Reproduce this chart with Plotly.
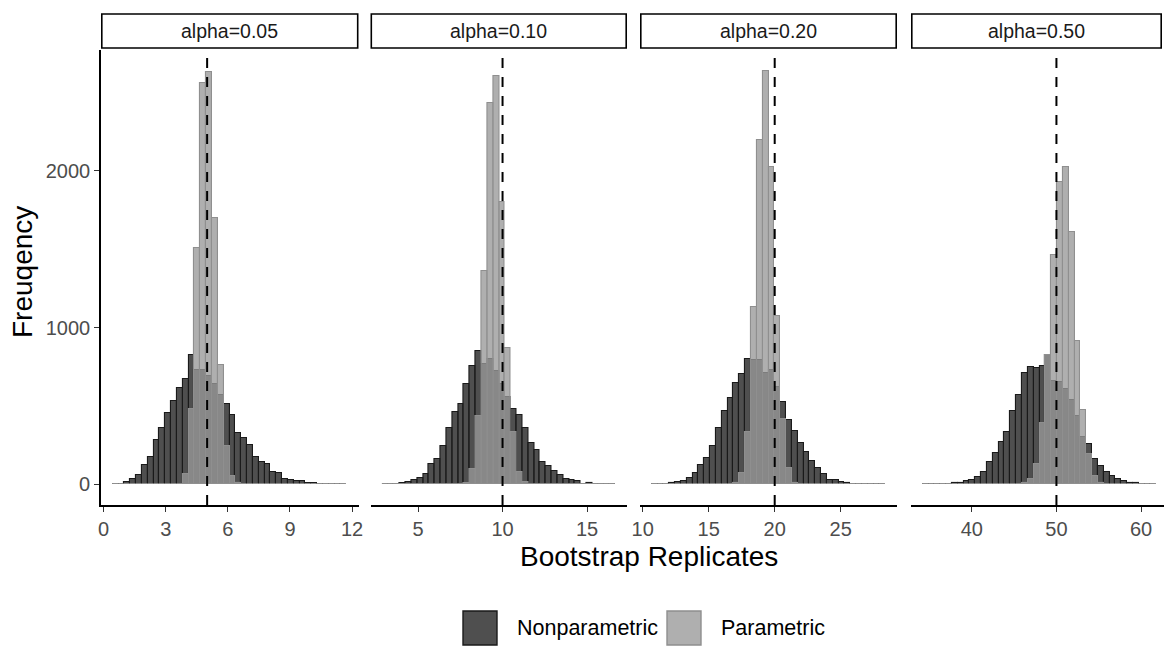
import plotly.graph_objects as go

W, H = 1164, 646

# ---------------- data ----------------
panel_labels = ["alpha=0.05", "alpha=0.10", "alpha=0.20", "alpha=0.50"]
true_values = [5, 10, 20, 50]
bin_start = [0.44, 2.88, 10.68, 34.2]
bin_width = [0.282, 0.3455, 0.4425, 0.69]

nonpar_005 = [5, 4, 15, 32, 57, 121, 174, 282, 358, 456, 533, 614, 672, 826, 728, 728, 690, 637, 573, 512,
              442, 327, 297, 250, 174, 144, 129, 78, 70, 36, 28, 24, 19, 10, 8, 4, 3, 2, 1, 1]
par_005 = [0, 0, 0, 0, 0, 0, 0, 0, 0, 0, 0, 5, 64, 478, 1510, 2562, 2632, 1700, 760, 244,
           53, 10, 2, 0, 0, 0, 0, 0, 0, 0, 0, 0, 0, 0, 0, 0, 0, 0, 0, 0]

nonpar_010 = [1, 2, 3, 6, 14, 28, 40, 66, 132, 163, 244, 359, 461, 512, 637, 754, 850, 770, 800, 722,
              640, 560, 478, 442, 357, 261, 221, 142, 117, 85, 57, 36, 28, 19, 3, 6, 2, 1, 2, 1]
par_010 = [0, 0, 0, 0, 0, 0, 0, 0, 0, 0, 0, 0, 0, 2, 10, 96, 435, 1361, 2431, 2605,
           1800, 870, 337, 81, 12, 0, 0, 0, 0, 0, 0, 0, 0, 0, 0, 0, 0, 0, 0, 0]

nonpar_020 = [1, 2, 4, 8, 14, 24, 38, 70, 125, 168, 242, 359, 469, 548, 648, 705, 800, 791, 791, 711,
              732, 620, 527, 410, 338, 265, 208, 146, 104, 68, 30, 25, 13, 9, 5, 3, 2, 1, 1, 1]
par_020 = [0, 0, 0, 0, 0, 0, 0, 0, 0, 0, 0, 0, 0, 2, 10, 70, 335, 1129, 2197, 2639,
           2024, 1073, 414, 102, 10, 0, 0, 0, 0, 0, 0, 0, 0, 0, 0, 0, 0, 0, 0, 0]

nonpar_050 = [1, 1, 2, 3, 4, 6, 10, 19, 28, 44, 80, 142, 197, 267, 335, 469, 567, 709, 748, 743,
              758, 822, 658, 650, 605, 541, 435, 300, 255, 159, 117, 81, 53, 32, 19, 10, 6, 4, 2, 1]
par_050 = [0, 0, 0, 0, 0, 0, 0, 0, 0, 0, 0, 0, 0, 0, 0, 0, 4, 10, 32, 127,
           393, 828, 1465, 1932, 2024, 1610, 913, 473, 191, 53, 10, 2, 0, 0, 0, 0, 0, 0, 0, 0]

nonpar_counts = [nonpar_005, nonpar_010, nonpar_020, nonpar_050]
par_counts = [par_005, par_010, par_020, par_050]

x_tickvals = [[0, 3, 6, 9, 12], [5, 10, 15], [10, 15, 20, 25], [40, 50, 60]]
y_tickvals = [0, 1000, 2000]

series_names = ["Nonparametric", "Parametric"]

# ---------------- style ----------------
FONT = "Liberation Sans, Arial, Helvetica, sans-serif"
NONPAR_FILL = "rgba(40,40,40,0.82)"
NONPAR_LINE = "#1a1a1a"
PAR_FILL = "rgba(153,153,153,0.78)"
PAR_LINE = "#8f8f8f"
TICK_SIZE = 20
STRIP_SIZE = 19.5
LEGEND_SIZE = 21.5
TITLE_SIZE = 28

def fx(px):
    return px / W

def fy(py):
    return 1 - py / H

x_domains_px = [(101, 358.5), (370.5, 627), (640, 897), (911, 1164)]
full_width_px = 257.0
y_domain_px = (50, 505)

fig = go.Figure()

ymax = max(max(max(c) for c in nonpar_counts), max(max(c) for c in par_counts))
y_range = [-0.05 * ymax, 1.05 * ymax]

shapes = []
annotations = []

for i in range(4):
    xa = "x" if i == 0 else f"x{i+1}"
    n = len(nonpar_counts[i])
    centers = [bin_start[i] + (k + 0.5) * bin_width[i] for k in range(n)]
    fig.add_trace(go.Bar(
        x=centers, y=nonpar_counts[i], width=[bin_width[i]] * n,
        xaxis=xa, yaxis="y", name=series_names[0], showlegend=False,
        marker=dict(color=NONPAR_FILL, line=dict(color=NONPAR_LINE, width=1.1)),
    ))
    fig.add_trace(go.Bar(
        x=centers, y=par_counts[i], width=[bin_width[i]] * n,
        xaxis=xa, yaxis="y", name=series_names[1], showlegend=False,
        marker=dict(color=PAR_FILL, line=dict(color=PAR_LINE, width=1.1)),
    ))

    lo = bin_start[i]
    hi = bin_start[i] + n * bin_width[i]
    pad = 0.05 * (hi - lo)
    r0 = lo - pad
    full = hi - lo + 2 * pad
    d0, d1 = x_domains_px[i]
    r1 = r0 + full * (d1 - d0) / full_width_px
    axis_key = "xaxis" if i == 0 else f"xaxis{i+1}"
    fig.layout[axis_key] = dict(
        domain=[fx(d0), fx(d1)], range=[r0, r1], anchor="y", automargin=False,
        showline=True, linecolor="black", linewidth=1.6,
        ticks="outside", ticklen=5, tickwidth=1.4, tickcolor="#333333",
        tickvals=x_tickvals[i], ticktext=[str(v) for v in x_tickvals[i]],
        tickfont=dict(family=FONT, size=TICK_SIZE, color="#4d4d4d"),
        showgrid=False, zeroline=False, fixedrange=True,
    )

    # dashed reference line at the true value
    shapes.append(dict(
        type="line", xref=xa, yref="paper", x0=true_values[i], x1=true_values[i],
        y0=fy(y_domain_px[1]), y1=fy(y_domain_px[0]),
        line=dict(color="black", width=2, dash="10px,9px"), layer="above",
    ))

    # facet strip
    s1 = min(d1, 1162)
    shapes.append(dict(
        type="rect", xref="paper", yref="paper",
        x0=fx(d0 + 0.8), x1=fx(s1 - 0.8), y0=fy(48), y1=fy(14),
        line=dict(color="black", width=1.6), fillcolor="white", layer="above",
    ))
    annotations.append(dict(
        text=panel_labels[i], xref="paper", yref="paper",
        x=fx((d0 + s1) / 2), y=fy(31), showarrow=False,
        xanchor="center", yanchor="middle",
        font=dict(family=FONT, size=STRIP_SIZE, color="#1a1a1a"),
    ))

fig.update_layout(
    yaxis=dict(
        domain=[fy(y_domain_px[1]), fy(y_domain_px[0])], range=y_range, anchor="x",
        automargin=False,
        showline=True, linecolor="black", linewidth=1.6,
        ticks="outside", ticklen=5, tickwidth=1.4, tickcolor="#333333",
        tickvals=y_tickvals, ticktext=[str(v) for v in y_tickvals],
        tickfont=dict(family=FONT, size=TICK_SIZE, color="#4d4d4d"),
        showgrid=False, zeroline=False, fixedrange=True,
    ),
)

# axis titles
annotations.append(dict(
    text="Bootstrap Replicates", xref="paper", yref="paper", x=fx(649), y=fy(556),
    showarrow=False, xanchor="center", yanchor="middle",
    font=dict(family=FONT, size=TITLE_SIZE, color="black"),
))
annotations.append(dict(
    text="Freuqency", xref="paper", yref="paper", x=fx(22), y=fy(272),
    showarrow=False, xanchor="center", yanchor="middle", textangle=-90,
    font=dict(family=FONT, size=TITLE_SIZE, color="black"),
))

# legend (drawn with large keys as in the reference)
legend_keys = [(463, 497, NONPAR_FILL, NONPAR_LINE, 515), (667, 701, PAR_FILL, PAR_LINE, 719)]
for (k0, k1, fc, lc, tx), name in zip(legend_keys, series_names):
    shapes.append(dict(
        type="rect", xref="paper", yref="paper", x0=fx(k0), x1=fx(k1), y0=fy(645), y1=fy(611),
        line=dict(color=lc, width=1.4), fillcolor=fc,
    ))
    annotations.append(dict(
        text=name, xref="paper", yref="paper", x=fx(tx), y=fy(628), showarrow=False,
        xanchor="left", yanchor="middle", font=dict(family=FONT, size=LEGEND_SIZE, color="black"),
    ))

fig.update_layout(
    width=W, height=H, margin=dict(l=0, r=0, t=0, b=0, autoexpand=False),
    paper_bgcolor="white", plot_bgcolor="white",
    barmode="overlay", bargap=0, showlegend=False,
    shapes=shapes, annotations=annotations,
    font=dict(family=FONT),
)

fig.write_html(
    "out.html",
    config={"displayModeBar": False},
    post_script="document.body.style.margin='0px';document.body.style.overflow='hidden';",
)
